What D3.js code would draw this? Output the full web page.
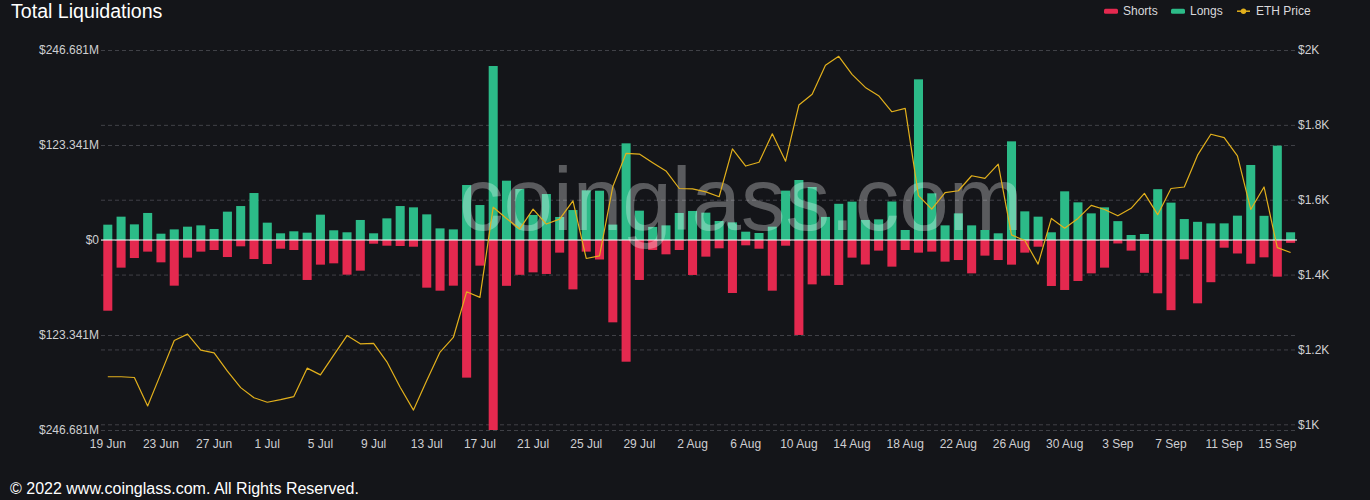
<!DOCTYPE html>
<html>
<head>
<meta charset="utf-8">
<script src="https://cdn.jsdelivr.net/npm/d3@7"></script>
<style>
  html, body { margin: 0; padding: 0; background: #141519; }
  svg { display: block; }
  text { font-family: "Liberation Sans", Arial, Helvetica, sans-serif; }
</style>
</head>
<body>
<svg id="chart" width="1370" height="500"></svg>
<script>
// ---- data ----
const dayLabels = [
  "19 Jun","20 Jun","21 Jun","22 Jun","23 Jun","24 Jun","25 Jun","26 Jun","27 Jun","28 Jun","29 Jun","30 Jun",
  "1 Jul","2 Jul","3 Jul","4 Jul","5 Jul","6 Jul","7 Jul","8 Jul","9 Jul","10 Jul","11 Jul","12 Jul","13 Jul","14 Jul","15 Jul","16 Jul",
  "17 Jul","18 Jul","19 Jul","20 Jul","21 Jul","22 Jul","23 Jul","24 Jul","25 Jul","26 Jul","27 Jul","28 Jul","29 Jul","30 Jul","31 Jul",
  "1 Aug","2 Aug","3 Aug","4 Aug","5 Aug","6 Aug","7 Aug","8 Aug","9 Aug","10 Aug","11 Aug","12 Aug","13 Aug","14 Aug","15 Aug","16 Aug",
  "17 Aug","18 Aug","19 Aug","20 Aug","21 Aug","22 Aug","23 Aug","24 Aug","25 Aug","26 Aug","27 Aug","28 Aug","29 Aug","30 Aug","31 Aug",
  "1 Sep","2 Sep","3 Sep","4 Sep","5 Sep","6 Sep","7 Sep","8 Sep","9 Sep","10 Sep","11 Sep","12 Sep","13 Sep","14 Sep","15 Sep","16 Sep"
];

// Longs liquidations (USD millions)
const longs = [
  19.9, 30.3, 20.3, 35.1, 8.2, 13.8, 17.3, 19.0, 14.3, 36.8, 44.1, 61.0, 22.5, 8.7, 11.3,
  9.5, 32.9, 12.6, 10.0, 26.0, 8.7, 28.1, 44.1, 42.4, 33.3, 15.1, 13.8, 71.4, 45.4, 225.9,
  77.0, 66.2, 32.5, 59.7, 29.9, 38.9, 64.5, 64.0, 20.0, 125.5, 38.1, 17.0, 19.0, 35.1, 37.7,
  35.5, 24.7, 22.9, 10.8, 9.1, 17.3, 64.1, 77.9, 68.8, 30.0, 47.0, 49.8, 26.0, 26.8, 50.0,
  13.0, 208.6, 60.6, 19.0, 34.6, 19.0, 13.0, 8.7, 128.1, 37.2, 30.3, 10.0, 63.2, 48.9, 34.6,
  42.4, 24.5, 6.5, 7.8, 66.0, 48.5, 27.2, 23.6, 21.6, 21.6, 31.6, 97.4, 31.4, 122.5, 10.0
];

// Shorts liquidations (USD millions)
const shorts = [
  91.8, 35.9, 23.4, 15.1, 29.0, 59.3, 22.9, 15.1, 13.0, 22.1, 8.2, 24.7, 31.2, 11.3, 13.0,
  51.9, 32.0, 30.3, 45.0, 39.8, 4.8, 7.4, 7.8, 8.7, 61.9, 65.8, 59.3, 178.7, 33.3, 246.681,
  59.5, 45.2, 42.0, 44.1, 16.4, 64.1, 15.1, 25.3, 106.9, 158.0, 51.9, 13.0, 18.6, 13.0, 45.4,
  21.6, 10.8, 68.8, 6.9, 11.3, 65.8, 7.4, 123.3, 57.6, 46.3, 58.4, 22.9, 31.8, 13.8, 34.6,
  13.0, 16.4, 15.1, 28.1, 26.0, 43.3, 20.3, 26.0, 32.0, 16.4, 8.7, 59.7, 64.9, 53.2, 43.3,
  35.9, 4.5, 13.8, 42.6, 69.2, 91.1, 25.1, 82.2, 54.8, 10.0, 17.5, 30.8, 22.5, 47.6, 3.7
];

// ETH price (USD)
const ethPrice = [
  1127, 1127, 1125, 1049, 1136, 1224, 1241, 1198, 1191, 1142, 1098, 1071, 1059, 1066, 1074,
  1150, 1132, 1185, 1237, 1215, 1216, 1167, 1099, 1038, 1117, 1193, 1232, 1354, 1339, 1580,
  1550, 1522, 1575, 1535, 1548, 1597, 1443, 1450, 1635, 1724, 1722, 1699, 1677, 1630, 1629,
  1621, 1608, 1736, 1690, 1700, 1776, 1703, 1853, 1882, 1959, 1983, 1935, 1900, 1878, 1835,
  1844, 1611, 1575, 1619, 1624, 1664, 1657, 1695, 1506, 1491, 1428, 1550, 1524, 1550, 1585,
  1574, 1557, 1577, 1617, 1560, 1630, 1634, 1719, 1775, 1766, 1717, 1574, 1634, 1472, 1459
];

const xTickLabels = ["19 Jun","23 Jun","27 Jun","1 Jul","5 Jul","9 Jul","13 Jul","17 Jul","21 Jul","25 Jul",
  "29 Jul","2 Aug","6 Aug","10 Aug","14 Aug","18 Aug","22 Aug","26 Aug","30 Aug","3 Sep","7 Sep","11 Sep","15 Sep"];
const leftTicks = [-246.681, -123.341, 0, 123.341, 246.681];
const leftTickLabels = ["$246.681M", "$123.341M", "$0", "$123.341M", "$246.681M"];
const rightTicks = [1000, 1200, 1400, 1600, 1800, 2000];
const rightTickLabels = ["$1K", "$1.2K", "$1.4K", "$1.6K", "$1.8K", "$2K"];
const seriesNames = ["Shorts", "Longs", "ETH Price"];

// ---- layout / style ----
const COL_SHORT = "#e4294f", COL_LONG = "#2cbb88", COL_ETH = "#e2b01c";
const X0 = 101.15, X1 = 1297.25;
const svg = d3.select("#chart");
svg.append("rect").attr("width", 1370).attr("height", 500).attr("fill", "#141519");

const x = d3.scaleBand().domain(dayLabels).range([X0, X1]).paddingInner(0.32).paddingOuter(0.16);
const yL = d3.scaleLinear().domain([-246.681, 246.681]).range([430, 50]);
const yR = d3.scaleLinear().domain([1000, 2000]).range([424.3, 50]);

// grids
function styleGrid(g) {
  g.select(".domain").remove();
  g.selectAll("line").attr("stroke", "#404147").attr("stroke-dasharray", "4,3").attr("stroke-width", 1);
  g.selectAll("text").remove();
}
svg.append("g").attr("transform", "translate(101,0)")
  .call(d3.axisLeft(yL).tickValues(leftTicks).tickSize(-(1297 - 101)).tickFormat(""))
  .call(styleGrid);
svg.append("g").attr("transform", "translate(101,0)")
  .call(d3.axisLeft(yR).tickValues(rightTicks).tickSize(-(1297 - 101)).tickFormat(""))
  .call(styleGrid);

// bars
const bars = svg.append("g");
bars.selectAll("rect.long").data(longs).join("rect").attr("class", "long")
  .attr("x", (d, i) => x(dayLabels[i])).attr("width", x.bandwidth())
  .attr("y", d => yL(d)).attr("height", d => yL(0) - yL(d)).attr("fill", COL_LONG);
bars.selectAll("rect.short").data(shorts).join("rect").attr("class", "short")
  .attr("x", (d, i) => x(dayLabels[i])).attr("width", x.bandwidth())
  .attr("y", yL(0)).attr("height", d => yL(-d) - yL(0)).attr("fill", COL_SHORT);

// zero line
svg.append("line").attr("x1", 101).attr("x2", 1297).attr("y1", yL(0)).attr("y2", yL(0))
  .attr("stroke", "#ffffff").attr("stroke-width", 1);

// watermark
svg.append("text").attr("x", 741).attr("y", 230).attr("text-anchor", "middle")
  .attr("font-size", 89).attr("fill", "#ffffff").attr("fill-opacity", 0.3)
  .text("coinglass.com");

// ETH price line
const line = d3.line()
  .x((d, i) => x(dayLabels[i]) + x.bandwidth() / 2)
  .y(d => yR(d));
svg.append("path").datum(ethPrice).attr("d", line)
  .attr("fill", "none").attr("stroke", COL_ETH).attr("stroke-width", 1.2).attr("stroke-linejoin", "round");

// axes labels
function styleAxis(g) {
  g.select(".domain").remove();
  g.selectAll("line").remove();
  g.selectAll("text").attr("fill", "#cfcfd2").attr("font-size", 12)
    .attr("font-family", "'Liberation Sans', Arial, Helvetica, sans-serif");
}
svg.append("g").attr("transform", "translate(101,0)")
  .call(d3.axisLeft(yL).tickValues(leftTicks).tickSize(0).tickPadding(2)
    .tickFormat(d => leftTickLabels[leftTicks.indexOf(d)]))
  .call(styleAxis);
svg.append("g").attr("transform", "translate(1297,0)")
  .call(d3.axisRight(yR).tickValues(rightTicks).tickSize(0).tickPadding(1)
    .tickFormat(d => rightTickLabels[rightTicks.indexOf(d)]))
  .call(styleAxis);
svg.append("g").attr("transform", "translate(0,430)")
  .call(d3.axisBottom(x).tickValues(xTickLabels).tickSize(0).tickPadding(9.5))
  .call(styleAxis);

// title
svg.append("text").attr("x", 11).attr("y", 18).attr("font-size", 19.6).attr("fill", "#ffffff")
  .text("Total Liquidations");

// legend
const lg = svg.append("g").attr("font-size", 12);
lg.append("rect").attr("x", 1104).attr("y", 8.7).attr("width", 14).attr("height", 5).attr("rx", 1.5).attr("fill", COL_SHORT);
lg.append("text").attr("x", 1123).attr("y", 15.2).attr("fill", "#d9d9dc").text(seriesNames[0]);
lg.append("rect").attr("x", 1171).attr("y", 8.7).attr("width", 14).attr("height", 5).attr("rx", 1.5).attr("fill", COL_LONG);
lg.append("text").attr("x", 1190).attr("y", 15.2).attr("fill", "#d9d9dc").text(seriesNames[1]);
lg.append("line").attr("x1", 1237).attr("x2", 1250).attr("y1", 11.2).attr("y2", 11.2).attr("stroke", COL_ETH).attr("stroke-width", 1.5);
lg.append("circle").attr("cx", 1243.5).attr("cy", 11.2).attr("r", 2.7).attr("fill", COL_ETH);
lg.append("text").attr("x", 1256).attr("y", 15.2).attr("fill", "#d9d9dc").text(seriesNames[2]);

// footer
svg.append("text").attr("x", 10).attr("y", 494).attr("font-size", 16).attr("fill", "#ffffff")
  .text("© 2022 www.coinglass.com. All Rights Reserved.");
</script>
</body>
</html>
